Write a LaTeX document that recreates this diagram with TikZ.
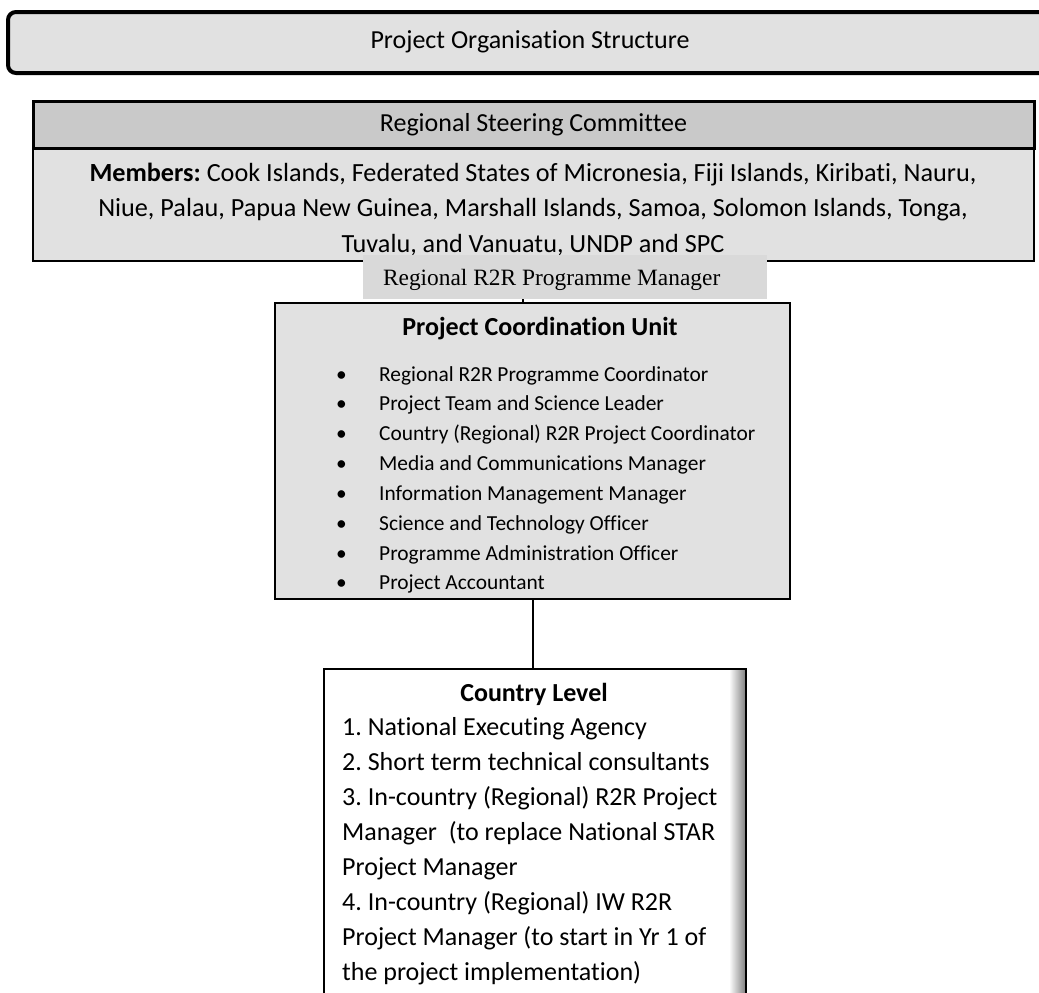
\documentclass[tikz,border=0pt]{standalone}
\usepackage{fontspec}
\setmainfont{Carlito}[Ligatures=NoCommon]
\newfontfamily\seriffont{Liberation Serif}
\usetikzlibrary{positioning}
\definecolor{boxgray}{HTML}{E1E1E1}
\definecolor{headgray}{HTML}{C9C9C9}
\definecolor{mgrgray}{HTML}{D9D9D9}
\newcommand\pcuitem[1]{\makebox[43pt][l]{\textbullet}#1}
\frenchspacing

\begin{document}
\begin{tikzpicture}[x=1pt,y=-1pt,
    box/.style={draw,line width=2pt,fill=boxgray,inner sep=0,outer sep=0},
    big/.style={font=\fontsize{26}{31}\selectfont},
    link/.style={draw,line width=2pt}]
  \useasboundingbox (0,0) rectangle (1039,993);
  % title bar, runs off the right edge of the page
  \node (title) [box,line width=4pt,rounded corners=8pt,minimum width=1052pt,
    minimum height=61pt] at (534,42.5) {};
  \node (titletext) [big] at (530,42) {Project Organisation Structure};
  % steering committee: members box with its header on top
  \node (members) [box,minimum width=1001pt,minimum height=113pt] at (533.5,204.5) {};
  \node (rsc) [box,line width=3pt,fill=headgray,minimum width=1001pt,minimum height=47pt,
    big,above=0pt of members] {Regional Steering Committee};
  \node (memberstext) [text width=990pt,align=flush center,inner sep=0,
    font=\fontsize{26.2}{35.5}\selectfont] at (533,209)
    {\textbf{Members:} Cook Islands, Federated States of Micronesia, Fiji Islands, Kiribati, Nauru,\\
     Niue, Palau, Papua New Guinea, Marshall Islands, Samoa, Solomon Islands, Tonga,\\
     Tuvalu, and Vanuatu, UNDP and SPC};
  \node (rpm) [fill=mgrgray,inner sep=0,inner xsep=20pt,minimum width=404pt,minimum height=44pt,
    text width=364pt,text depth=0pt,align=flush left,font=\seriffont\fontsize{23.4}{28}\selectfont]
    at (565,277) {Regional R2R Programme Manager};
  % coordination unit
  \node (pcu) [box,minimum width=515pt,minimum height=296pt] at (532.5,451) {};
  \node (pcuhead) [font=\bfseries\fontsize{26}{31}\selectfont] at (540,329) {Project Coordination Unit};
  \node (pculist) [anchor=base west,inner sep=0,text width=440pt,align=flush left,
    font=\fontsize{21.4}{29.85}\selectfont] at (336,381)
    {\pcuitem{Regional R2R Programme Coordinator}\\
     \pcuitem{Project Team and Science Leader}\\
     \pcuitem{Country (Regional) R2R Project Coordinator}\\
     \pcuitem{Media and Communications Manager}\\
     \pcuitem{Information Management Manager}\\
     \pcuitem{Science and Technology Officer}\\
     \pcuitem{Programme Administration Officer}\\
     \pcuitem{Project Accountant}};
  \coordinate (tick) at (523,299);
  \draw[line width=1.5pt] (tick) -- (tick |- pcu.north);
  % country level, runs off the bottom of the page
  \node (country) [draw,line width=2pt,fill=white,inner sep=0,outer sep=0,
    minimum width=422pt,minimum height=340pt,
    path picture={
      \foreach \k in {1,...,15}{
        \pgfmathtruncatemacro\shadeval{3*\k}
        \fill[black!\shadeval] ([xshift={\k*1pt-17pt}]path picture bounding box.north east)
          rectangle ([xshift={\k*1pt-16pt}]path picture bounding box.south east);
      }}] at (535,839) {};
  \draw[link] (pcu.south) -- (pcu.south |- country.north);
  \node (countryhead) [font=\bfseries\fontsize{26}{31}\selectfont] at (534,694) {Country Level};
  \node (countrylist) [anchor=base west,inner sep=0,text width=400pt,align=flush left,
    font=\fontsize{26}{35.1}\selectfont] at (342,735)
    {1. National Executing Agency\\
     2. Short term technical consultants\\
     3. In-country (Regional) R2R Project\\
     Manager\ \ (to replace National STAR\\
     Project Manager\\
     4. In-country (Regional) IW R2R\\
     Project Manager (to start in Yr 1 of\\
     the project implementation)};
\end{tikzpicture}
\end{document}
